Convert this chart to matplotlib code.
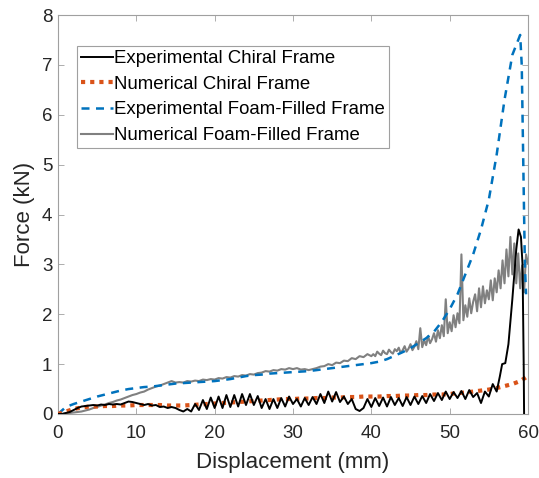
import numpy as np
import matplotlib
matplotlib.use("Agg")
import matplotlib.pyplot as plt

plt.rcParams['font.family'] = ['Liberation Sans', 'DejaVu Sans']

# ---- Experimental chiral frame (0.5 mm sampling up to 56 mm, then final collapse) ----
chiral_exp_main = [
    0.00, 0.00, 0.02, 0.04, 0.08, 0.12, 0.15, 0.16, 0.17, 0.18,   # 0 - 4.5
    0.17, 0.19, 0.18, 0.20, 0.19, 0.20, 0.19, 0.22, 0.25, 0.24,   # 5 - 9.5
    0.22, 0.20, 0.18, 0.20, 0.17, 0.18, 0.14, 0.15, 0.12, 0.14,   # 10 - 14.5
    0.12, 0.08, 0.05, 0.10, 0.05, 0.20, 0.08, 0.28, 0.10, 0.33,   # 15 - 19.5
    0.12, 0.35, 0.12, 0.38, 0.14, 0.38, 0.15, 0.40, 0.18, 0.40,   # 20 - 24.5
    0.18, 0.36, 0.12, 0.30, 0.10, 0.30, 0.12, 0.32, 0.15, 0.35,   # 25 - 29.5
    0.20, 0.30, 0.15, 0.32, 0.18, 0.34, 0.20, 0.40, 0.22, 0.45,   # 30 - 34.5
    0.25, 0.44, 0.24, 0.35, 0.20, 0.30, 0.10, 0.06, 0.12, 0.30,   # 35 - 39.5
    0.14, 0.32, 0.16, 0.33, 0.15, 0.34, 0.18, 0.32, 0.16, 0.34,   # 40 - 44.5
    0.18, 0.35, 0.20, 0.36, 0.22, 0.40, 0.26, 0.42, 0.28, 0.45,   # 45 - 49.5
    0.30, 0.44, 0.32, 0.46, 0.30, 0.48, 0.34, 0.42, 0.22, 0.45,   # 50 - 54.5
    0.35, 0.60, 0.45,                                             # 55 - 56
]
chiral_exp_tail_x = [56.4, 56.7, 57.1, 57.5, 58.0, 58.5, 58.8, 59.1, 59.3, 59.45, 59.5]
chiral_exp_tail_y = [0.75, 1.00, 1.02, 1.40, 2.30, 3.30, 3.70, 3.55, 3.00, 1.00, 0.00]

# ---- Numerical chiral frame (1 mm sampling) ----
chiral_num = [
    0.00, 0.05, 0.10, 0.13, 0.15, 0.15, 0.16, 0.16, 0.17, 0.17,
    0.18, 0.18, 0.18, 0.18, 0.17, 0.17, 0.17, 0.18, 0.19, 0.20,
    0.21, 0.22, 0.23, 0.24, 0.25, 0.26, 0.27, 0.28, 0.29, 0.30,
    0.30, 0.31, 0.31, 0.32, 0.32, 0.33, 0.33, 0.34, 0.34, 0.35,
    0.35, 0.35, 0.36, 0.36, 0.37, 0.37, 0.38, 0.38, 0.39, 0.39,
    0.40, 0.42, 0.43, 0.45, 0.47, 0.49, 0.52, 0.56, 0.60, 0.66,
    0.76,
]

# ---- Experimental foam-filled frame (1 mm sampling up to 59 mm, then unloading) ----
foam_exp_main = [
    0.00, 0.14, 0.20, 0.25, 0.30, 0.35, 0.39, 0.43, 0.47, 0.50,
    0.52, 0.54, 0.55, 0.57, 0.59, 0.61, 0.62, 0.63, 0.64, 0.65,
    0.66, 0.68, 0.70, 0.73, 0.76, 0.78, 0.79, 0.81, 0.82, 0.83,
    0.84, 0.85, 0.86, 0.88, 0.90, 0.92, 0.94, 0.96, 0.98, 1.00,
    1.02, 1.05, 1.10, 1.17, 1.24, 1.32, 1.42, 1.52, 1.65, 1.85,
    2.10, 2.40, 2.80, 3.20, 3.70, 4.30, 5.20, 6.30, 7.20, 7.60,
]
foam_exp_tail_x = [59.2, 59.4, 59.6, 59.75]
foam_exp_tail_y = [7.00, 5.00, 3.00, 2.40]

# ---- Numerical foam-filled frame (0.5 mm up to 40 mm, 0.25 mm beyond) ----
foam_num_low = [
    0.00, 0.00, 0.01, 0.02, 0.03, 0.04, 0.05, 0.07, 0.09, 0.12,   # 0 - 4.5
    0.14, 0.17, 0.19, 0.22, 0.24, 0.27, 0.29, 0.32, 0.35, 0.38,   # 5 - 9.5
    0.40, 0.43, 0.45, 0.49, 0.52, 0.55, 0.57, 0.60, 0.63, 0.66,   # 10 - 14.5
    0.63, 0.64, 0.63, 0.66, 0.65, 0.67, 0.66, 0.69, 0.68, 0.70,   # 15 - 19.5
    0.69, 0.72, 0.71, 0.74, 0.73, 0.76, 0.75, 0.78, 0.77, 0.80,   # 20 - 24.5
    0.79, 0.82, 0.83, 0.86, 0.85, 0.88, 0.87, 0.90, 0.89, 0.92,   # 25 - 29.5
    0.90, 0.92, 0.89, 0.90, 0.88, 0.90, 0.92, 0.95, 0.96, 1.00,   # 30 - 34.5
    0.98, 1.03, 1.02, 1.07, 1.06, 1.12, 1.10, 1.16, 1.14, 1.20,   # 35 - 39.5
    1.16,                                                         # 40
]
foam_num_high = [
    1.20, 1.16, 1.25, 1.21, 1.18, 1.27, 1.22, 1.20,   # 40.25 - 42
    1.29, 1.24, 1.21, 1.30, 1.26, 1.33, 1.22, 1.28,   # 42.25 - 44
    1.36, 1.25, 1.31, 1.40, 1.28, 1.35, 1.46, 1.30,   # 44.25 - 46
    1.72, 1.34, 1.48, 1.38, 1.56, 1.42, 1.50, 1.62,   # 46.25 - 48
    1.45, 1.68, 1.52, 1.78, 1.56, 2.30, 1.62, 1.84,   # 48.25 - 50
    1.66, 1.98, 1.74, 2.02, 1.82, 3.20, 1.88, 2.18,   # 50.25 - 52
    1.95, 2.32, 2.02, 2.25, 2.40, 2.06, 2.52, 2.14,   # 52.25 - 54
    2.56, 2.22, 2.48, 2.30, 2.68, 2.28, 2.72, 2.44,   # 54.25 - 56
    2.88, 2.52, 3.08, 2.62, 3.30, 2.76, 3.55, 2.80,   # 56.25 - 58
    3.42, 2.62, 3.22, 2.52, 2.98, 2.44, 3.20, 3.02,   # 58.25 - 60
]

x_ticks = [0, 10, 20, 30, 40, 50, 60]
y_ticks = [0, 1, 2, 3, 4, 5, 6, 7, 8]

labels = ["Experimental Chiral Frame", "Numerical Chiral Frame",
          "Experimental Foam-Filled Frame", "Numerical Foam-Filled Frame"]

# sample positions for each series
chiral_exp_x = np.concatenate([np.arange(len(chiral_exp_main)) * 0.5, chiral_exp_tail_x])
chiral_exp_y = np.concatenate([chiral_exp_main, chiral_exp_tail_y])
chiral_num_x = np.arange(len(chiral_num)) * 1.0
foam_exp_x = np.concatenate([np.arange(len(foam_exp_main)) * 1.0, foam_exp_tail_x])
foam_exp_y = np.concatenate([foam_exp_main, foam_exp_tail_y])
foam_num_x = np.concatenate([np.arange(len(foam_num_low)) * 0.5,
                             40.0 + (np.arange(len(foam_num_high)) + 1) * 0.25])
foam_num_y = np.concatenate([foam_num_low, foam_num_high])

fig = plt.figure(figsize=(5.39, 4.78), dpi=100)
ax = fig.add_axes([0.1076, 0.1339, 0.872, 0.8347])

ax.plot(chiral_exp_x, chiral_exp_y, color='black', lw=1.4, label=labels[0], zorder=4)
ax.plot(chiral_num_x, chiral_num, color='#D95319', lw=3.0, ls=(0, (1, 1.2)),
        label=labels[1], zorder=3)
ax.plot(foam_exp_x, foam_exp_y, color='#0072BD', lw=1.8, ls=(0, (3.2, 2.6)),
        label=labels[2], zorder=2)
ax.plot(foam_num_x, foam_num_y, color='#808080', lw=1.5, label=labels[3], zorder=1)

ax.set_xlim(0, 60)
ax.set_ylim(0, 8)
ax.set_xticks(x_ticks)
ax.set_yticks(y_ticks)
ax.tick_params(direction='in', length=4, width=0.6, colors='#a0a0a0',
               labelcolor='#262626', labelsize=13.5, top=True, right=True)
ax.tick_params(axis='x', pad=8)
ax.tick_params(axis='y', pad=4)
for s in ax.spines.values():
    s.set_color('#a0a0a0')
    s.set_linewidth(0.8)

ax.set_xlabel("Displacement (mm)", fontsize=16, color='#262626', labelpad=7)
ax.set_ylabel("Force (kN)", fontsize=16, color='#262626', labelpad=5)

leg = ax.legend(loc='upper left', bbox_to_anchor=(0.04, 0.922), fontsize=13.4,
                handlelength=1.7, handletextpad=0.1, labelspacing=0.46,
                borderpad=0.22, borderaxespad=0.0, fancybox=False, framealpha=1)
leg.get_frame().set_edgecolor('#a0a0a0')
leg.get_frame().set_linewidth(0.8)

fig.savefig("out.png", dpi=100)
